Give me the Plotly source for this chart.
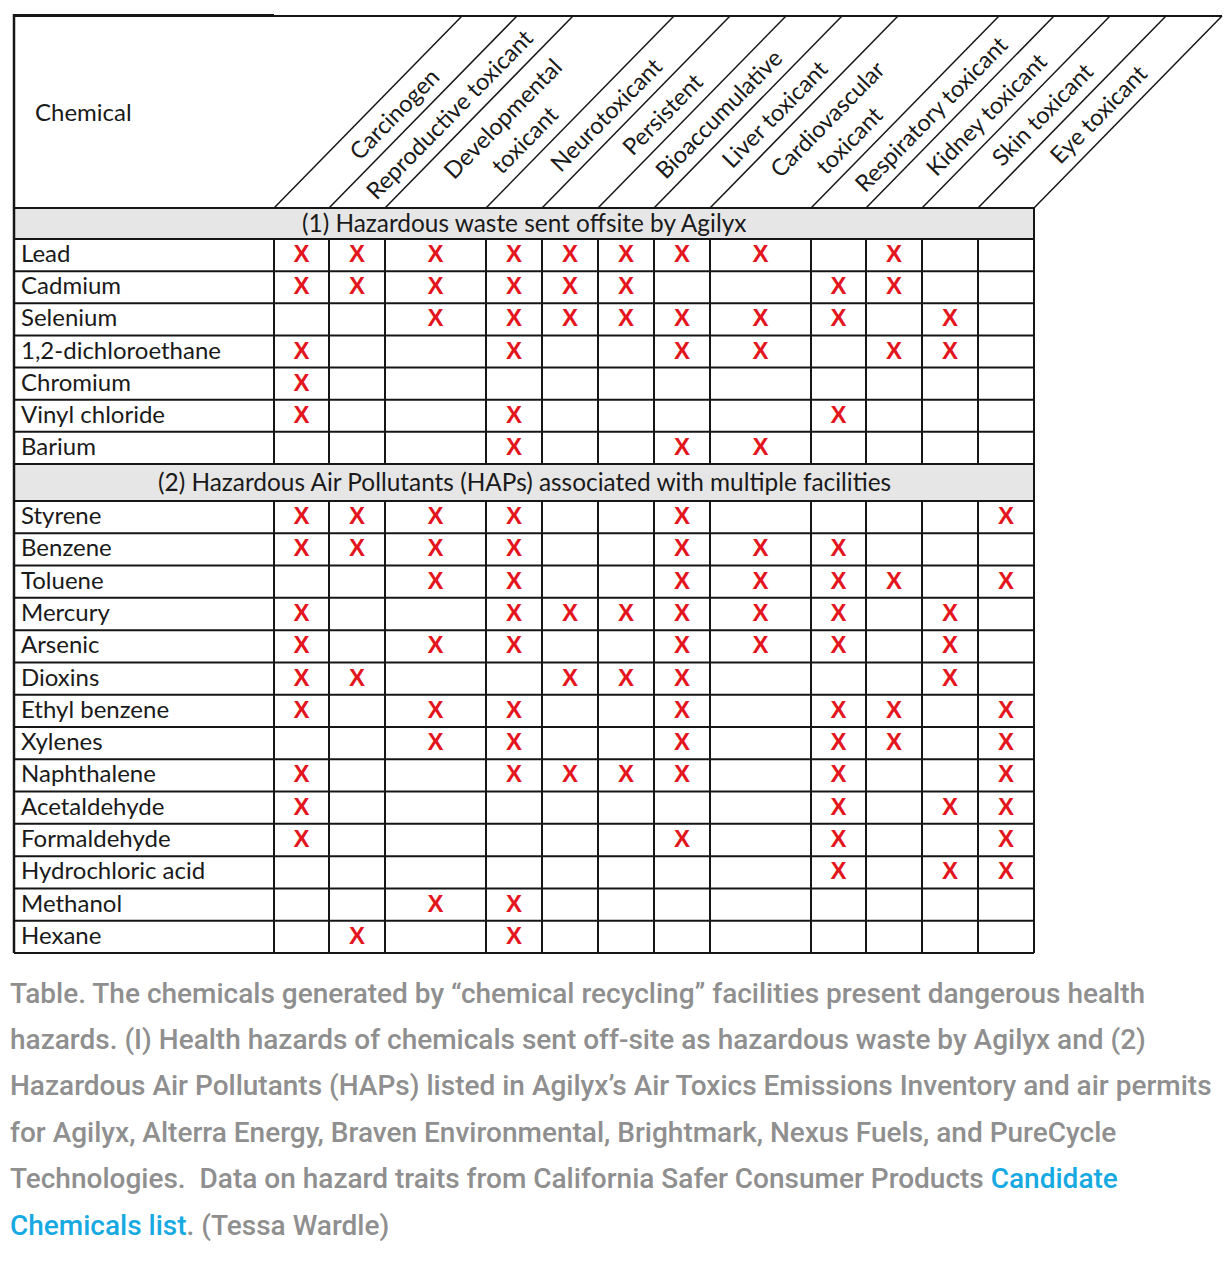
import plotly.graph_objects as go

# ---------------- data ----------------
hazards = ["Carcinogen", "Reproductive toxicant", "Developmental<br>toxicant", "Neurotoxicant",
           "Persistent", "Bioaccumulative", "Liver toxicant", "Cardiovascular<br>toxicant",
           "Respiratory toxicant", "Kidney toxicant", "Skin toxicant", "Eye toxicant"]

group_titles = ["(1) Hazardous waste sent offsite by Agilyx",
                "(2) Hazardous Air Pollutants (HAPs) associated with multiple facilities"]

chem_g1 = ["Lead", "Cadmium", "Selenium", "1,2-dichloroethane", "Chromium", "Vinyl chloride", "Barium"]
marks_g1 = [
    [1, 1, 1, 1, 1, 1, 1, 1, 0, 1, 0, 0],
    [1, 1, 1, 1, 1, 1, 0, 0, 1, 1, 0, 0],
    [0, 0, 1, 1, 1, 1, 1, 1, 1, 0, 1, 0],
    [1, 0, 0, 1, 0, 0, 1, 1, 0, 1, 1, 0],
    [1, 0, 0, 0, 0, 0, 0, 0, 0, 0, 0, 0],
    [1, 0, 0, 1, 0, 0, 0, 0, 1, 0, 0, 0],
    [0, 0, 0, 1, 0, 0, 1, 1, 0, 0, 0, 0],
]

chem_g2 = ["Styrene", "Benzene", "Toluene", "Mercury", "Arsenic", "Dioxins", "Ethyl benzene",
           "Xylenes", "Naphthalene", "Acetaldehyde", "Formaldehyde", "Hydrochloric acid",
           "Methanol", "Hexane"]
marks_g2 = [
    [1, 1, 1, 1, 0, 0, 1, 0, 0, 0, 0, 1],
    [1, 1, 1, 1, 0, 0, 1, 1, 1, 0, 0, 0],
    [0, 0, 1, 1, 0, 0, 1, 1, 1, 1, 0, 1],
    [1, 0, 0, 1, 1, 1, 1, 1, 1, 0, 1, 0],
    [1, 0, 1, 1, 0, 0, 1, 1, 1, 0, 1, 0],
    [1, 1, 0, 0, 1, 1, 1, 0, 0, 0, 1, 0],
    [1, 0, 1, 1, 0, 0, 1, 0, 1, 1, 0, 1],
    [0, 0, 1, 1, 0, 0, 1, 0, 1, 1, 0, 1],
    [1, 0, 0, 1, 1, 1, 1, 0, 1, 0, 0, 1],
    [1, 0, 0, 0, 0, 0, 0, 0, 1, 0, 1, 1],
    [1, 0, 0, 0, 0, 0, 1, 0, 1, 0, 0, 1],
    [0, 0, 0, 0, 0, 0, 0, 0, 1, 0, 1, 1],
    [0, 0, 1, 1, 0, 0, 0, 0, 0, 0, 0, 0],
    [0, 1, 0, 1, 0, 0, 0, 0, 0, 0, 0, 0],
]

caption_lines = [
    "Table. The chemicals generated by \u201cchemical recycling\u201d facilities present dangerous health",
    "hazards. (I) Health hazards of chemicals sent off-site as hazardous waste by Agilyx and (2)",
    "Hazardous Air Pollutants (HAPs) listed in Agilyx\u2019s Air Toxics Emissions Inventory and air permits",
    "for Agilyx, Alterra Energy, Braven Environmental, Brightmark, Nexus Fuels, and PureCycle",
    "Technologies.&nbsp; Data on hazard traits from California Safer Consumer Products <span style='color:#17a9e1'>Candidate</span>",
    "<span style='color:#17a9e1'>Chemicals list</span>. (Tessa Wardle)",
]

# ---------------- geometry (pixels) ----------------
LEFT = 14
col_edges = [274, 329, 385, 486, 542, 598, 654, 710, 811, 866, 922, 978, 1034]
RIGHT = col_edges[-1]
HEAD_TOP, HEAD_BOT = 16, 208
G1_TOP, G1_ROWS_TOP, G1_BOT = 208, 239, 464
G2_TOP, G2_ROWS_TOP, G2_BOT = 464, 501, 953
SLANT = 188  # horizontal run of header diagonals

LINE = "#161616"
RED = "#e3161e"
TXT = "#1a1a1a"
FONT = "Lato, Open Sans, sans-serif"

fig = go.Figure()
shapes = []
annotations = []


def hline(y, x0, x1, w=2):
    shapes.append(dict(type="line", xref="x", yref="y", x0=x0, x1=x1, y0=y, y1=y,
                       line=dict(color=LINE, width=w)))


def vline(x, y0, y1, w=2):
    shapes.append(dict(type="line", xref="x", yref="y", x0=x, x1=x, y0=y0, y1=y1,
                       line=dict(color=LINE, width=w)))


# gray group rows
for (t, b) in [(G1_TOP, G1_ROWS_TOP), (G2_TOP, G2_ROWS_TOP)]:
    shapes.append(dict(type="rect", xref="x", yref="y", x0=LEFT, x1=RIGHT, y0=t, y1=b,
                       fillcolor="#e6e6e6", line=dict(width=0), layer="below"))

# header
hline(HEAD_TOP - 0.5, LEFT, col_edges[0], 3)
hline(HEAD_TOP, col_edges[0], RIGHT + SLANT, 2)
for e in col_edges:
    shapes.append(dict(type="line", xref="x", yref="y", x0=e, y0=HEAD_BOT, x1=e + SLANT, y1=HEAD_TOP,
                       line=dict(color=LINE, width=1.5)))

annotations.append(dict(x=33, y=111, xref="x", yref="y", text="Chemical", showarrow=False,
                        xanchor="left", yanchor="middle", font=dict(family=FONT, size=24, color=TXT)))

angle = -45.6
for i, h in enumerate(hazards):
    xc = (col_edges[i] + col_edges[i + 1]) / 2
    nlines = h.count("<br>") + 1
    yc = 114 + (nlines - 1) * 15
    annotations.append(dict(x=xc + (HEAD_BOT - yc) * SLANT / (HEAD_BOT - HEAD_TOP), y=yc,
                            xref="x", yref="y", text=h, showarrow=False, textangle=angle,
                            xanchor="center", yanchor="middle", align="center",
                            font=dict(family=FONT, size=23.5, color=TXT)))

# body blocks
xs, ys = [], []
blocks = [(G1_TOP, G1_ROWS_TOP, G1_BOT, chem_g1, marks_g1, group_titles[0]),
          (G2_TOP, G2_ROWS_TOP, G2_BOT, chem_g2, marks_g2, group_titles[1])]
for (gt, rt, rb, chems, marks, title) in blocks:
    hline(gt, LEFT, RIGHT)
    annotations.append(dict(x=(LEFT + RIGHT) / 2, y=(gt + rt) / 2 - 1, xref="x", yref="y", text=title,
                            showarrow=False, xanchor="center", yanchor="middle",
                            font=dict(family=FONT, size=24.4, color=TXT)))
    n = len(chems)
    rh = (rb - rt) / n
    for r in range(n + 1):
        hline(rt + r * rh, LEFT, RIGHT)
    for e in col_edges:
        vline(e, rt, rb)
    for r, name in enumerate(chems):
        yc = rt + (r + 0.5) * rh
        annotations.append(dict(x=19, y=yc - 2.5, xref="x", yref="y", text=name, showarrow=False,
                                xanchor="left", yanchor="middle",
                                font=dict(family=FONT, size=24, color=TXT)))
        for c, v in enumerate(marks[r]):
            if v:
                xs.append((col_edges[c] + col_edges[c + 1]) / 2)
                ys.append(yc + 1)

vline(LEFT, HEAD_TOP - 2, G2_BOT, 2.5)
vline(RIGHT, G1_TOP, G2_BOT, 2)

fig.add_trace(go.Scatter(x=xs, y=ys, mode="text", text=["X"] * len(xs),
                         textposition="middle center",
                         textfont=dict(family="Liberation Sans, Arial, sans-serif", size=24,
                                       color=RED, weight="bold"),
                         hoverinfo="skip", showlegend=False))

# caption
cap_y0, cap_dy = 993, 46.4
for i, line in enumerate(caption_lines):
    annotations.append(dict(x=8, y=cap_y0 + i * cap_dy, xref="x", yref="y", text=line, showarrow=False,
                            xanchor="left", yanchor="middle",
                            font=dict(family="Roboto, sans-serif", size=28, color="#8f8f8f",
                                      weight=500)))

fig.update_layout(
    width=1216, height=1248,
    margin=dict(l=0, r=0, t=0, b=0),
    paper_bgcolor="white", plot_bgcolor="white",
    xaxis=dict(range=[8, 1224], visible=False, fixedrange=True),
    yaxis=dict(range=[1256, 8], visible=False, fixedrange=True),
    shapes=shapes, annotations=annotations,
    showlegend=False,
)

fig.write_html("out.html")
